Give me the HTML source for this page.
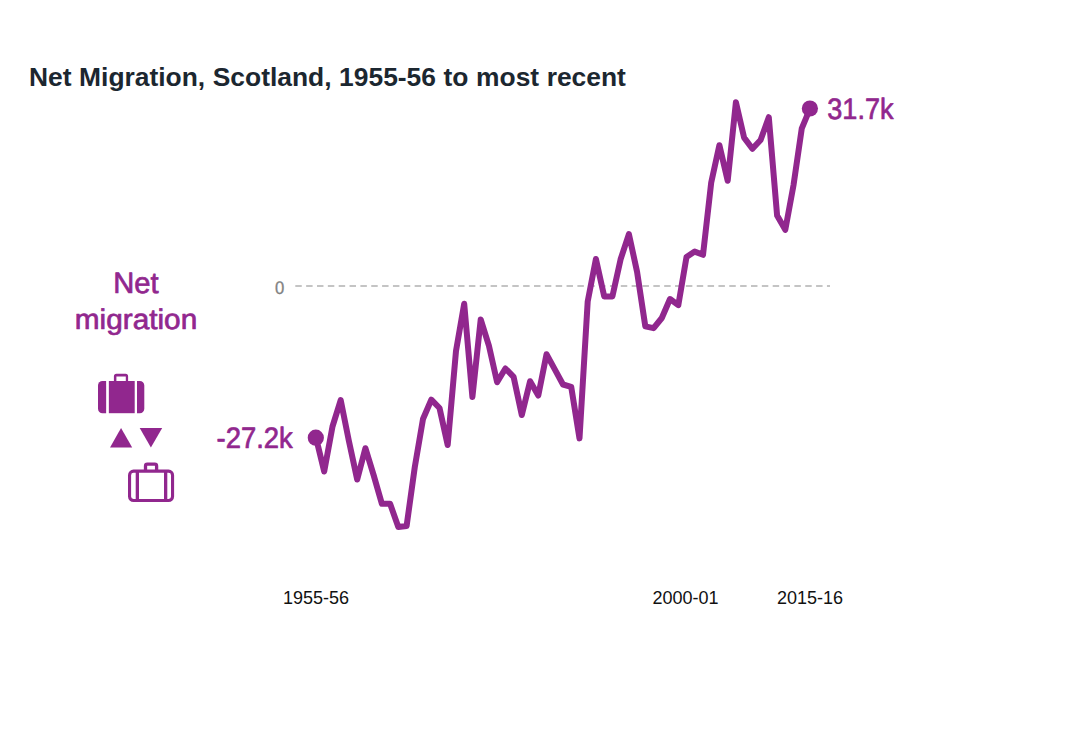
<!DOCTYPE html>
<html><head><meta charset="utf-8"><title>Net Migration</title>
<style>
html,body{margin:0;padding:0;background:#fff;}
body{width:1080px;height:732px;overflow:hidden;font-family:"Liberation Sans",sans-serif;}
svg{display:block;position:absolute;left:0;top:0;}
text{font-family:"Liberation Sans",sans-serif;}
.p{text-rendering:geometricPrecision;}
</style></head><body>
<svg width="1080" height="732" viewBox="0 0 1080 732">
<rect width="1080" height="732" fill="#ffffff"/>
<text id="title" x="29" y="85.5" font-size="26.4" font-weight="bold" fill="#1c2730" word-spacing="0.25">Net Migration, Scotland, 1955-56 to most recent</text>
<line x1="295.3" y1="286" x2="830" y2="286" stroke="#c4c4c4" stroke-width="2" stroke-dasharray="6.45 4.4"/>
<text class="p" x="275" y="293.6" font-size="18.2" fill="#828282" stroke="#828282" stroke-width="0.3" textLength="9.3" lengthAdjust="spacingAndGlyphs">0</text>
<polyline points="316.0,437.8 324.2,471.5 332.5,426.5 340.7,400.2 348.9,441.0 357.2,479.5 365.4,448.2 373.6,475.0 381.9,503.8 390.1,503.8 398.3,527.0 406.6,526.0 414.8,467.0 423.0,419.0 431.3,399.7 439.5,408.0 447.7,445.0 456.0,351.0 464.2,303.8 472.4,397.0 480.7,319.5 488.9,345.7 497.1,382.2 505.4,368.5 513.6,376.8 521.8,415.0 530.1,381.2 538.3,395.5 546.5,354.3 554.8,369.4 563.0,384.5 571.2,386.8 579.5,438.4 587.7,301.5 595.9,259.0 604.2,296.4 612.4,296.4 620.6,259.3 628.9,234.1 637.1,272.0 645.3,326.3 653.6,328.2 661.8,318.0 670.0,299.0 678.3,305.2 686.5,256.9 694.7,251.6 703.0,254.8 711.2,182.7 719.4,145.2 727.7,180.8 735.9,102.3 744.1,137.6 752.4,148.8 760.6,140.0 768.8,117.2 777.1,215.4 785.3,229.8 793.5,185.2 801.8,128.3 810.0,108.6" fill="none" stroke="#91278E" stroke-width="6" stroke-linejoin="round" stroke-linecap="round"/>
<circle cx="315.8" cy="437.7" r="8.1" fill="#91278E"/>
<circle cx="809.9" cy="108.5" r="8.1" fill="#91278E"/>
<text x="827.3" y="118.6" class="p" font-size="29.5" fill="#91278E" stroke="#91278E" stroke-width="0.7" stroke-linejoin="round" textLength="66.2" lengthAdjust="spacingAndGlyphs">31.7k</text>
<text x="216.6" y="447.7" class="p" font-size="29.5" fill="#91278E" stroke="#91278E" stroke-width="0.7" stroke-linejoin="round" textLength="76.2" lengthAdjust="spacingAndGlyphs">-27.2k</text>
<text x="136.0" y="292.6" class="p" font-size="29.5" fill="#91278E" stroke="#91278E" stroke-width="0.7" stroke-linejoin="round" text-anchor="middle" textLength="45.4" lengthAdjust="spacingAndGlyphs">Net</text>
<text x="136" y="328.9" class="p" font-size="28.4" fill="#91278E" stroke="#91278E" stroke-width="0.7" stroke-linejoin="round" text-anchor="middle" textLength="122.4" lengthAdjust="spacingAndGlyphs">migration</text>
<!-- filled suitcase -->
<g fill="#91278E">
<path d="M102.5,381 H106.15 V413.2 H102.5 A4.5,4.5 0 0 1 98,408.7 V385.5 A4.5,4.5 0 0 1 102.5,381 Z"/>
<rect x="108.85" y="381" width="25.85" height="32.2"/>
<path d="M137,381 H139.8 A4.5,4.5 0 0 1 144.3,385.5 V408.7 A4.5,4.5 0 0 1 139.8,413.2 H137 Z"/>
<path fill-rule="evenodd" d="M113.9,382 V376.35 A2.5,2.5 0 0 1 116.4,373.85 H125.6 A2.5,2.5 0 0 1 128.1,376.35 V382 Z M116.4,382 V376.5 H125.8 V382 Z"/>
</g>
<!-- triangles -->
<polygon points="121.05,428.1 132.2,447.5 110,447.5" fill="#91278E"/>
<polygon points="139.7,428.1 162.2,428.1 150.9,447.5" fill="#91278E"/>
<!-- outline suitcase -->
<g fill="none" stroke="#91278E">
<rect x="129.55" y="471.15" width="43" height="29.4" rx="4" ry="4" stroke-width="3.1"/>
<line x1="137.35" y1="471" x2="137.35" y2="500.5" stroke-width="3.3"/>
<line x1="165.65" y1="471" x2="165.65" y2="500.5" stroke-width="3.3"/>
<path d="M145.5,470.5 V466 A1.8,1.8 0 0 1 147.3,464.2 H154.8 A1.8,1.8 0 0 1 156.6,466 V470.5" stroke-width="3.3"/>
</g>
<text x="316" y="604" font-size="18" fill="#111" text-anchor="middle">1955-56</text>
<text x="685.5" y="604" font-size="18" fill="#111" text-anchor="middle">2000-01</text>
<text x="810" y="604" font-size="18" fill="#111" text-anchor="middle">2015-16</text>
</svg>
</body></html>
